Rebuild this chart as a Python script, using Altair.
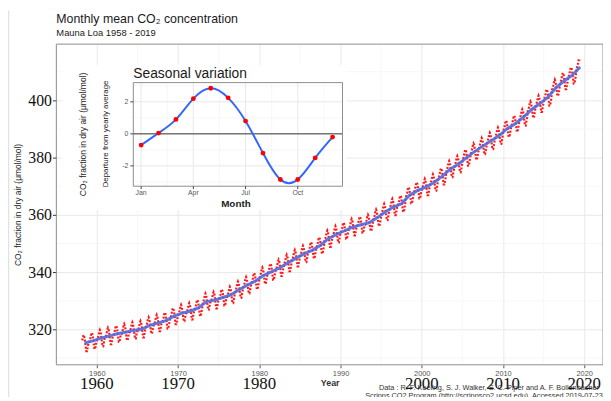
import altair as alt
import pandas as pd

# ---------------- data ----------------
years = list(range(1958, 2020))
annual_mean = [315.23, 315.98, 316.91, 317.64, 318.45, 318.99, 319.62, 320.04, 321.37, 322.18,
               323.05, 324.62, 325.68, 326.32, 327.46, 329.68, 330.19, 331.12, 332.03, 333.84,
               335.41, 336.84, 338.76, 340.12, 341.48, 343.15, 344.87, 346.35, 347.61, 349.31,
               351.69, 353.20, 354.45, 355.70, 356.54, 357.21, 358.96, 360.97, 362.74, 363.88,
               366.84, 368.54, 369.71, 371.32, 373.45, 375.98, 377.70, 379.98, 382.09, 384.02,
               385.83, 387.64, 390.10, 391.85, 394.06, 396.74, 398.81, 401.01, 404.41, 406.76,
               408.72, 411.66]
months = list(range(1, 13))
seasonal = [-0.70, 0.05, 0.90, 2.20, 2.85, 2.25, 0.80, -1.20, -2.85, -2.85, -1.50, -0.20]
first_month = (1958, 3)
last_month = (2019, 6)

x_ticks = [1960, 1970, 1980, 1990, 2000, 2010, 2020]
x_big_labels = [1960, 1970, 1980, 2000, 2010, 2020]
x_minor = [1965, 1975, 1985, 1995, 2005, 2015]
y_ticks = [320, 340, 360, 380, 400]
y_minor = [310, 330, 350, 370, 390, 410]

inset_month_ticks = [1, 4, 7, 10]
inset_month_labels = ["Jan", "Apr", "Jul", "Oct"]
inset_month_minor = [2.5, 5.5, 8.5, 11.5]
inset_y_ticks = [-2, 0, 2]
inset_y_minor = [-3, -1, 1, 3]

# monthly table built from annual means + seasonal departures
rows = []
for yr, am in zip(years, annual_mean):
    for m, s in zip(months, seasonal):
        if (yr, m) < first_month or (yr, m) > last_month:
            continue
        rows.append({"t": yr + (m - 0.5) / 12, "co2": am + s})
monthly = pd.DataFrame(rows)
trend = pd.DataFrame({"t": [y + 0.5 for y in years], "co2": annual_mean})
season = pd.DataFrame({"m": months, "d": seasonal})

# ---------------- layout ----------------
W, H = 554, 325
SANS = "Liberation Sans"
SERIF = "Liberation Serif"

def xs():
    return alt.Scale(domain=[1955.02, 2022.31], nice=False, zero=False)

def ys():
    return alt.Scale(domain=[307.6, 419.66], nice=False, zero=False)

one = pd.DataFrame({"a": [0]})

def txt(s, x, y, size, color="#1a1a1a", align="left", angle=0, weight="normal", font=SANS):
    return alt.Chart(pd.DataFrame({"t": [s]})).mark_text(
        align=align, baseline="middle", fontSize=size, color=color, angle=angle,
        fontWeight=weight, font=font
    ).encode(text="t:N", x=alt.value(x), y=alt.value(y))

minor_x = alt.Chart(pd.DataFrame({"x": x_minor})).mark_rule(color="#f3f3f3", strokeWidth=0.7).encode(
    x=alt.X("x:Q", scale=xs(), axis=None))
minor_y = alt.Chart(pd.DataFrame({"y": y_minor})).mark_rule(color="#f3f3f3", strokeWidth=0.7).encode(
    y=alt.Y("y:Q", scale=ys(), axis=None))

red = alt.Chart(monthly).mark_line(color="#ff1a1a", strokeWidth=2.2, strokeDash=[2, 1.6]).encode(
    x=alt.X("t:Q", scale=xs(), axis=alt.Axis(
        orient="bottom", values=x_ticks, format="d", title="Year", grid=True, gridColor="#e8e8e8",
        domain=False, tickColor="#555", tickSize=3, labelFont=SANS, labelFontSize=7.5,
        labelColor="#555", labelPadding=2, titleFont=SANS, titleFontSize=9, titleFontWeight="bold",
        titleColor="#333", titlePadding=1)),
    y=alt.Y("co2:Q", scale=ys(), axis=alt.Axis(
        orient="left", values=y_ticks, format="d", title="CO₂ fraction in dry air (μmol/mol)", grid=True,
        gridColor="#e8e8e8", domain=False, tickColor="#333", tickSize=4, labelFont=SERIF,
        labelFontSize=16, labelColor="#111", labelPadding=1, titleFont=SANS, titleFontSize=8.5,
        titleFontWeight="normal", titleColor="#222", titlePadding=5)),
)
blue = alt.Chart(trend).mark_line(color="#5069df", strokeWidth=3, opacity=0.9).encode(
    x=alt.X("t:Q", scale=xs(), axis=None), y=alt.Y("co2:Q", scale=ys(), axis=None))

frame = alt.Chart(one).mark_rect(fillOpacity=0, stroke="#8c8c8c", strokeWidth=1).encode(
    x=alt.value(0), x2=alt.value(W), y=alt.value(0), y2=alt.value(H))

serif_labels = alt.Chart(pd.DataFrame({"x": x_big_labels, "lab": [str(v) for v in x_big_labels]})).mark_text(
    font=SERIF, fontSize=17, color="#111", baseline="middle").encode(
    x=alt.X("x:Q", scale=xs(), axis=None), y=alt.value(H + 20), text="lab:N")

edge = alt.Chart(one).mark_rule(color="#e2e2e2", strokeWidth=1.5).encode(
    x=alt.value(-48.5), y=alt.value(-34), y2=alt.value(H + 40))

# ---------------- inset ----------------
IX0, IX1, IY0, IY1 = 78, 290, 39, 144

def ixs():
    return alt.Scale(domain=[0.55, 12.57], range=[IX0, IX1], nice=False, zero=False)

def iys():
    return alt.Scale(domain=[-3.27, 3.2], range=[IY1, IY0], nice=False, zero=False)

bg = alt.Chart(one).mark_rect(fill="white").encode(
    x=alt.value(6), x2=alt.value(294), y=alt.value(21), y2=alt.value(168))

ig_vmin = alt.Chart(pd.DataFrame({"m": inset_month_minor})).mark_rule(color="#f3f3f3", strokeWidth=0.7).encode(
    x=alt.X("m:Q", scale=ixs(), axis=None), y=alt.value(IY0), y2=alt.value(IY1))
ig_v = alt.Chart(pd.DataFrame({"m": inset_month_ticks})).mark_rule(color="#e8e8e8", strokeWidth=1).encode(
    x=alt.X("m:Q", scale=ixs(), axis=None), y=alt.value(IY0), y2=alt.value(IY1))
ig_hmin = alt.Chart(pd.DataFrame({"d": inset_y_minor})).mark_rule(color="#f3f3f3", strokeWidth=0.7).encode(
    y=alt.Y("d:Q", scale=iys(), axis=None), x=alt.value(IX0), x2=alt.value(IX1))
ig_h = alt.Chart(pd.DataFrame({"d": inset_y_ticks})).mark_rule(color="#e8e8e8", strokeWidth=1).encode(
    y=alt.Y("d:Q", scale=iys(), axis=None), x=alt.value(IX0), x2=alt.value(IX1))
zero_line = alt.Chart(pd.DataFrame({"d": [0]})).mark_rule(color="#222", strokeWidth=0.9).encode(
    y=alt.Y("d:Q", scale=iys(), axis=None), x=alt.value(IX0), x2=alt.value(IX1))
iframe = alt.Chart(one).mark_rect(fillOpacity=0, stroke="#8c8c8c", strokeWidth=1).encode(
    x=alt.value(IX0), x2=alt.value(IX1), y=alt.value(IY0), y2=alt.value(IY1))

curve = alt.Chart(season).mark_line(interpolate="natural", color="#3366ff", strokeWidth=2).encode(
    x=alt.X("m:Q", scale=ixs(), axis=None), y=alt.Y("d:Q", scale=iys(), axis=None))
pts = alt.Chart(season).mark_circle(color="#ff0000", size=24, opacity=1).encode(
    x=alt.X("m:Q", scale=ixs(), axis=None), y=alt.Y("d:Q", scale=iys(), axis=None))

ixlab = alt.Chart(pd.DataFrame({"m": inset_month_ticks, "lab": inset_month_labels})).mark_text(
    font=SANS, fontSize=7, color="#555", baseline="middle").encode(
    x=alt.X("m:Q", scale=ixs(), axis=None), y=alt.value(IY1 + 7), text="lab:N")
ixtick = alt.Chart(pd.DataFrame({"m": inset_month_ticks})).mark_rule(color="#444").encode(
    x=alt.X("m:Q", scale=ixs(), axis=None), y=alt.value(IY1), y2=alt.value(IY1 + 3))
iylab = alt.Chart(pd.DataFrame({"d": inset_y_ticks, "lab": [str(v) for v in inset_y_ticks]})).mark_text(
    font=SANS, fontSize=7, color="#555", baseline="middle", align="right").encode(
    y=alt.Y("d:Q", scale=iys(), axis=None), x=alt.value(IX0 - 5), text="lab:N")
iytick = alt.Chart(pd.DataFrame({"d": inset_y_ticks})).mark_rule(color="#444").encode(
    y=alt.Y("d:Q", scale=iys(), axis=None), x=alt.value(IX0 - 3), x2=alt.value(IX0))

chart = alt.layer(
    minor_x, minor_y, red, blue, frame, serif_labels, edge,
    txt("Monthly mean CO₂ concentration", 0, -25, 12.5),
    txt("Mauna Loa 1958 - 2019", 0, -11, 9.5),
    txt("Data : R. F. Keeling, S. J. Walker, S. C. Piper and A. F. Bollenbacher", 327, 349, 7.4, "#333"),
    txt("Scripps CO2 Program (http://scrippsco2.ucsd.edu). Accessed 2019-07-23", 313, 357, 7.4, "#333"),
    bg, ig_vmin, ig_v, ig_hmin, ig_h, zero_line, iframe, curve, pts,
    ixlab, ixtick, iylab, iytick,
    txt("Seasonal variation", IX0, 30, 14),
    txt("Month", 182, 162, 10, "#222", align="center", weight="bold"),
    txt("CO₂ fraction in dry air (μmol/mol)", 27, 91.5, 8.6, "#222", align="center", angle=270),
    txt("Departure from yearly average", 50, 91, 8, "#222", align="center", angle=270),
).resolve_scale(
    x="independent", y="independent"
).properties(
    width=W, height=H,
    autosize=alt.AutoSizeParams(type="none"),
    padding={"left": 49, "top": 34, "right": 0, "bottom": 30},
    background="white",
).configure_view(stroke=None)

chart.save("out.html", embed_options={"renderer": "svg", "actions": False})
